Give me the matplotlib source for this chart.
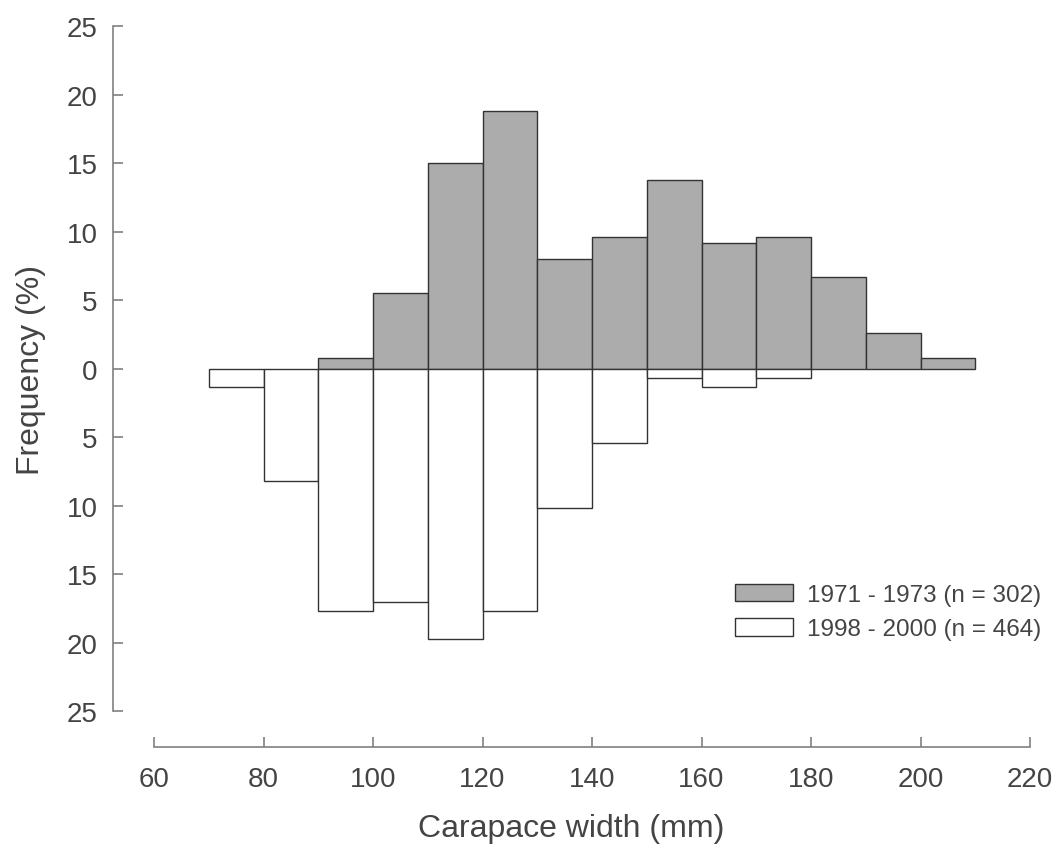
import matplotlib
matplotlib.use("Agg")
import matplotlib.pyplot as plt
from matplotlib.ticker import FuncFormatter

plt.rcParams['font.family'] = ['Liberation Sans', 'DejaVu Sans']

# size classes (left edge of each 10 mm bin)
bins_old = [90, 100, 110, 120, 130, 140, 150, 160, 170, 180, 190, 200]
freq_old = [0.8, 5.5, 15.0, 18.8, 8.0, 9.6, 13.8, 9.2, 9.6, 6.7, 2.6, 0.8]

bins_new = [70, 80, 90, 100, 110, 120, 130, 140, 150, 160, 170]
freq_new = [1.3, 8.2, 17.7, 17.0, 19.7, 17.7, 10.2, 5.4, 0.65, 1.3, 0.65]

label_old = "1971 - 1973 (n = 302)"
label_new = "1998 - 2000 (n = 464)"

text_col = '#444444'
axis_col = '#808080'

fig = plt.figure(figsize=(10.6, 8.54), dpi=100)
ax = fig.add_axes([113/1060, 1 - 748/854, 917/1060, 721/854])

ax.bar(bins_old, freq_old, width=10, align='edge', color='#acacac',
       edgecolor='#333333', linewidth=1.0, label=label_old)
# the recent period is plotted downwards
ax.bar(bins_new, [-v for v in freq_new], width=10, align='edge', color='white',
       edgecolor='#333333', linewidth=1.0, label=label_new)

ax.set_xlim(52.5, 220)
ax.set_ylim(-27.6, 25)

for s in ['top', 'right']:
    ax.spines[s].set_visible(False)
ax.spines['left'].set_bounds(-25, 25)
ax.spines['bottom'].set_bounds(60, 220)
for s in ['left', 'bottom']:
    ax.spines[s].set_color(axis_col)
    ax.spines[s].set_linewidth(1.2)

ax.set_xticks(range(60, 221, 20))
ax.set_yticks(range(-25, 26, 5))
ax.yaxis.set_major_formatter(FuncFormatter(lambda v, p: f"{abs(v):.0f}"))

ax.tick_params(axis='both', direction='in', length=7, width=1.2,
               color=axis_col, labelcolor=text_col, labelsize=20)
ax.tick_params(axis='x', pad=14)
ax.tick_params(axis='y', pad=11)

ax.set_xlabel("Carapace width (mm)", fontsize=23, color=text_col, labelpad=15)
ax.set_ylabel("Frequency (%)", fontsize=23, color=text_col)
# centre the y label on the zero line
ax.yaxis.set_label_coords(-67/917, 378/721)

ax.legend(loc='center left', bbox_to_anchor=(735/1060, 1 - 613/854),
          bbox_transform=fig.transFigure, frameon=False, fontsize=17.5,
          handlelength=2.4, handleheight=0.75, handletextpad=0.55,
          labelspacing=0.5, borderpad=0, borderaxespad=0,
          labelcolor=text_col)

fig.savefig("out.png", dpi=100)
